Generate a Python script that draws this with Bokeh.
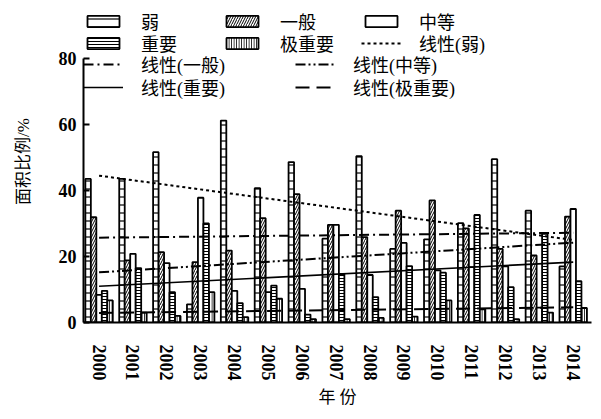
from bokeh.plotting import figure
from bokeh.models import Legend, LegendItem, FixedTicker, Range1d
from bokeh.embed import file_html
from bokeh.resources import INLINE
import numpy as np

years = [str(y) for y in range(2000, 2015)]
weak = [43.5, 43.5, 51.6, 5.5, 61.2, 40.7, 48.6, 25.4, 50.4, 22.3, 25.2, 30.1, 49.5, 33.9, 17.0]
general = [31.9, 18.8, 21.3, 18.3, 21.8, 31.6, 38.9, 29.6, 25.9, 33.9, 37.0, 28.5, 22.3, 20.3, 32.1]
medium = [8.4, 20.8, 18.0, 37.8, 9.6, 9.2, 10.2, 29.6, 14.4, 24.1, 15.8, 16.8, 17.0, 4.5, 34.4]
important = [9.6, 16.5, 9.2, 30.0, 5.9, 11.2, 2.4, 14.7, 7.7, 17.1, 15.1, 32.6, 10.7, 26.9, 12.5]
very_important = [6.7, 3.0, 2.0, 9.2, 1.6, 7.2, 1.0, 1.0, 1.4, 1.8, 6.7, 4.0, 1.0, 3.0, 4.4]

series_names = ["弱", "一般", "中等", "重要", "极重要"]
series_values = [weak, general, medium, important, very_important]

trend_names = ["线性(弱)", "线性(一般)", "线性(中等)", "线性(重要)", "线性(极重要)"]
trend_first = [44.5, 25.7, 15.2, 11.0, 2.9]   # value of trend at 2000
trend_last = [25.0, 27.2, 24.2, 18.3, 4.6]    # value of trend at 2014
y_ticks = [0, 20, 40, 60, 80]

FONT = "Liberation Serif, Noto Sans CJK SC"

FRAME_H = 322
PX_PER_UNIT = 3.3
p = figure(width=593, height=411, output_backend="svg", toolbar_location=None,
           x_range=Range1d(-0.46, 14.54), y_range=Range1d(0, FRAME_H / PX_PER_UNIT),
           min_border_left=83, min_border_right=2, min_border_top=0,
           min_border_bottom=89)
p.outline_line_color = None
p.xgrid.visible = False
p.ygrid.visible = False
p.background_fill_color = "white"

idx = np.arange(len(years))
bw = 0.162
offsets = [-2 * bw, -bw, 0.0, bw, 2 * bw]
bar_styles = [
    dict(hatch_pattern="horizontal_line", hatch_scale=8, hatch_weight=1.2),
    dict(hatch_pattern="right_diagonal_line", hatch_scale=5, hatch_weight=1),
    dict(hatch_pattern="blank"),
    dict(hatch_pattern="horizontal_line", hatch_scale=3, hatch_weight=1),
    dict(hatch_pattern="vertical_line", hatch_scale=2.5, hatch_weight=1),
]
bar_renderers = []
for vals, off, st in zip(series_values, offsets, bar_styles):
    r = p.vbar(x=idx + off, top=vals, bottom=0, width=bw, fill_color="white",
               line_color="black", line_width=1.8, hatch_color="black", **st)
    bar_renderers.append(r)

trend_dashes = ["3 3", "10 4 2 4", "10 3 2 3 2 3", "solid", "14 7"]
trend_widths = [2, 2, 2, 1.6, 2]
trend_renderers = []
for a, b, d, w in zip(trend_first, trend_last, trend_dashes, trend_widths):
    r = p.line(x=[idx[0], idx[-1]], y=[a, b], line_color="black", line_width=w,
               line_dash=d)
    trend_renderers.append(r)

p.xaxis.ticker = FixedTicker(ticks=list(idx))
p.xaxis.major_label_overrides = {int(i): y for i, y in zip(idx, years)}
p.xaxis.major_label_orientation = "vertical"
p.xaxis.major_tick_in = 0
p.xaxis.major_tick_out = 0
p.xaxis.minor_tick_line_color = None
p.xaxis.major_label_standoff = 22
p.xaxis.axis_label = "年 份"
p.xaxis.axis_label_standoff = 4

p.yaxis.ticker = FixedTicker(ticks=y_ticks)
p.yaxis.bounds = (y_ticks[0], y_ticks[-1])
p.yaxis.major_tick_in = 6
p.yaxis.major_tick_out = 0
p.yaxis.minor_tick_line_color = None
p.yaxis.major_label_standoff = 7
p.yaxis.axis_label = "面积比例/%"
p.yaxis.axis_label_standoff = 23

for ax in (p.xaxis[0], p.yaxis[0]):
    ax.axis_line_width = 2
    ax.axis_line_color = "black"
    ax.major_tick_line_width = 2
    ax.major_tick_line_color = "black"
    ax.major_label_text_font = FONT
    ax.major_label_text_font_size = "18px"
    ax.major_label_text_font_style = "bold"
    ax.major_label_text_color = "black"
    ax.axis_label_text_font = FONT
    ax.axis_label_text_font_size = "17px"
    ax.axis_label_text_font_style = "normal"
    ax.axis_label_text_color = "black"

common = dict(glyph_width=40, glyph_height=14, label_standoff=18, padding=0,
              margin=0, border_line_alpha=0, background_fill_alpha=0,
              label_text_font=FONT, label_text_font_size="18px",
              label_height=20, label_text_color="black",
              orientation="horizontal", spacing=3)

all_items = {n: r for n, r in zip(series_names + trend_names,
                                   bar_renderers + trend_renderers)}
rows = [
    (["弱", "一般", "中等"], 78, 288),
    (["重要", "极重要", "线性(弱)"], 78, 266),
    (["线性(一般)", "线性(中等)"], 151, 245),
    (["线性(重要)", "线性(极重要)"], 151, 222),
]
for names, lw, yb in rows:
    leg = Legend(items=[LegendItem(label=n, renderers=[all_items[n]]) for n in names],
                 location=(0, yb), label_width=lw, **common)
    p.add_layout(leg)

open("out.html", "w").write(file_html(p, INLINE))
